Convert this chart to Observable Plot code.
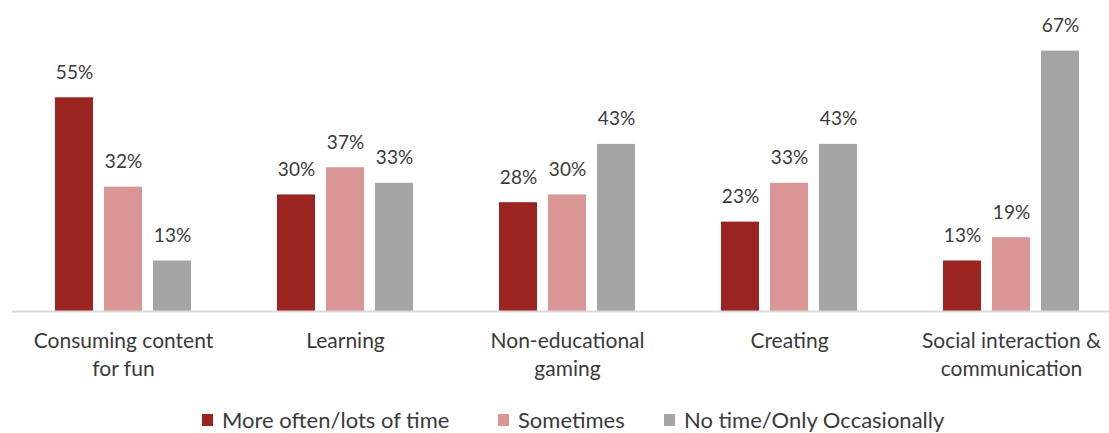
<!DOCTYPE html>
<html>
<head>
<meta charset="utf-8">
<script src="https://cdn.jsdelivr.net/npm/d3@7"></script>
<script src="https://cdn.jsdelivr.net/npm/@observablehq/plot@0.6"></script>
<style>
  html, body { margin: 0; padding: 0; background: #fff; overflow: hidden; }
  #chart { width: 1122px; font-family: Lato, "Open Sans", sans-serif; }
  #chart svg { display: block; }
  .legend { position: relative; height: 38px; font-family: Lato, "Open Sans", sans-serif; font-size: 22px; line-height: 24px; color: #3a3a3a; }
  .legend .item { position: absolute; top: 13px; display: flex; align-items: center; white-space: nowrap; }
  .legend .swatch { width: 11px; height: 12px; margin-right: 9px; }
</style>
</head>
<body>
<div id="chart"></div>
<script>
// Activity categories and their two-line axis labels
const categories = [
  "Consuming content for fun",
  "Learning",
  "Non-educational gaming",
  "Creating",
  "Social interaction & communication"
];
const categoryLabels = [
  "Consuming content\nfor fun",
  "Learning",
  "Non-educational\ngaming",
  "Creating",
  "Social interaction &\ncommunication"
];

// Response series (percent of respondents)
const seriesNames = ["More often/lots of time", "Sometimes", "No time/Only Occasionally"];
const moreOften = [55, 30, 28, 23, 13];
const sometimes = [32, 37, 30, 33, 19];
const noTime = [13, 33, 43, 43, 67];
const seriesColors = ["#9b2420", "#d99694", "#a5a5a5"];

const seriesValues = [moreOften, sometimes, noTime];
const rows = [];
categories.forEach((category, i) => {
  seriesNames.forEach((series, j) => {
    rows.push({category, series, value: seriesValues[j][i]});
  });
});

const textColor = "#3a3a3a";

const chart = Plot.plot({
  width: 1122,
  height: 395,
  marginLeft: 11,
  marginRight: 0,
  marginTop: 39,
  marginBottom: 84,
  style: {fontFamily: "Lato, 'Open Sans', sans-serif", background: "#fff"},
  fx: {domain: categories, padding: 0, axis: null},
  x: {domain: seriesNames, paddingInner: 0.23, paddingOuter: 0.866, axis: null},
  y: {domain: [0, 70], axis: null},
  color: {domain: seriesNames, range: seriesColors},
  marks: [
    Plot.barY(rows, {fx: "category", x: "series", y: "value", fill: "series"}),
    Plot.ruleY([0], {stroke: "#d9d9d9", strokeWidth: 2}),
    Plot.text(rows, {
      fx: "category", x: "series", y: "value",
      text: d => d.value + "%",
      lineAnchor: "bottom", dy: -19,
      fontSize: 19, fill: textColor
    }),
    Plot.text(categories, {
      fx: d => d,
      text: (d, i) => categoryLabels[i],
      frameAnchor: "bottom",
      lineAnchor: "top",
      dy: 17,
      lineHeight: 1.31,
      fontSize: 21,
      fill: textColor
    })
  ]
});

document.getElementById("chart").appendChild(chart);

// Legend below the plot
const legend = document.createElement("div");
legend.className = "legend";
const legendLeft = [202, 498, 664];
seriesNames.forEach((name, j) => {
  const item = document.createElement("div");
  item.className = "item";
  item.style.left = legendLeft[j] + "px";
  const sw = document.createElement("span");
  sw.className = "swatch";
  sw.style.background = seriesColors[j];
  const label = document.createElement("span");
  label.textContent = name;
  item.appendChild(sw);
  item.appendChild(label);
  legend.appendChild(item);
});
document.getElementById("chart").appendChild(legend);
</script>
</body>
</html>
